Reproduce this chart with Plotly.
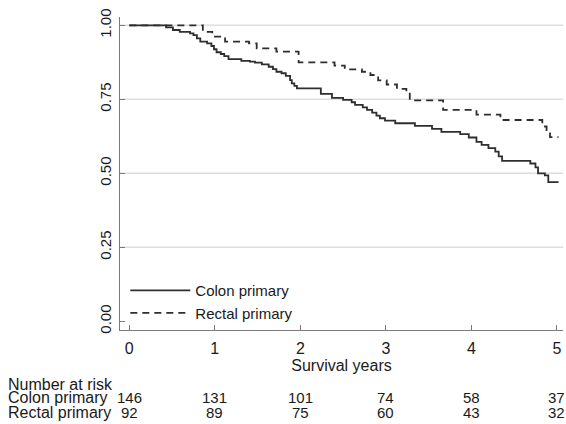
import plotly.graph_objects as go

# ---- data ----
colon_t = [0, 0.43, 0.51, 0.59, 0.71, 0.75, 0.79, 0.83, 0.91, 0.96, 0.99, 1.02, 1.07, 1.11, 1.16,
           1.31, 1.41, 1.47, 1.55, 1.63, 1.68, 1.72, 1.78, 1.83, 1.88, 1.90, 1.93, 1.96, 2.24, 2.37,
           2.50, 2.60, 2.64, 2.73, 2.78, 2.84, 2.89, 2.93, 2.99, 3.11, 3.34, 3.54, 3.65, 3.87, 3.97,
           4.06, 4.12, 4.20, 4.28, 4.32, 4.36, 4.69, 4.75, 4.78, 4.86, 4.90, 5.02]
colon_s = [1.0, 0.993, 0.984, 0.978, 0.973, 0.967, 0.956, 0.945, 0.939, 0.930, 0.919, 0.909, 0.903, 0.896, 0.886,
           0.880, 0.877, 0.874, 0.868, 0.860, 0.852, 0.843, 0.838, 0.829, 0.815, 0.804, 0.795, 0.787, 0.768, 0.755,
           0.748, 0.740, 0.731, 0.723, 0.714, 0.705, 0.695, 0.686, 0.678, 0.669, 0.660, 0.650, 0.640, 0.632, 0.621,
           0.606, 0.596, 0.585, 0.573, 0.557, 0.542, 0.533, 0.520, 0.500, 0.493, 0.470, 0.470]

rectal_t = [0, 0.86, 0.97, 1.12, 1.40, 1.49, 1.72, 1.98, 2.40, 2.52, 2.72, 2.82, 2.91, 3.01, 3.13,
            3.24, 3.28, 3.67, 4.06, 4.34, 4.83, 4.88, 4.92, 5.02]
rectal_s = [1.0, 0.978, 0.962, 0.945, 0.939, 0.922, 0.911, 0.875, 0.864, 0.851, 0.843, 0.832, 0.814, 0.800, 0.785,
            0.776, 0.746, 0.714, 0.698, 0.680, 0.658, 0.635, 0.622, 0.622]

series_names = ["Colon primary", "Rectal primary"]
risk_times = [0, 1, 2, 3, 4, 5]
colon_risk = [146, 131, 101, 74, 58, 37]
rectal_risk = [92, 89, 75, 60, 43, 32]

x_ticks = [0, 1, 2, 3, 4, 5]
y_ticks = [0.0, 0.25, 0.5, 0.75, 1.0]
y_ticktext = ["0.00", "0.25", "0.50", "0.75", "1.00"]
grid_y = [0.25, 0.5, 0.75, 1.0]

FONT = "Liberation Sans, Arial, Helvetica, sans-serif"
TXT = "#1a1a1a"
LINE = "#2e2e2e"
AX = "#7a7a7a"

fig = go.Figure()
fig.add_trace(go.Scatter(x=colon_t, y=colon_s, mode="lines", line_shape="hv",
                         line=dict(color=LINE, width=1.8), name=series_names[0]))
fig.add_trace(go.Scatter(x=rectal_t, y=rectal_s, mode="lines", line_shape="hv",
                         line=dict(color=LINE, width=1.8, dash="7px,5px"), name=series_names[1]))

for g in grid_y:
    fig.add_shape(type="line", xref="paper", x0=0, x1=1, yref="y", y0=g, y1=g,
                  line=dict(color="#dedede", width=1.5), layer="below")

# number at risk table
rows = [("Number at risk", None, -0.174), (series_names[0], colon_risk, -0.217), (series_names[1], rectal_risk, -0.262)]
for label, vals, yy in rows:
    fig.add_annotation(text=label, xref="paper", x=-0.258, xanchor="left", yref="paper", y=yy,
                       yanchor="middle", showarrow=False, font=dict(size=16, color=TXT, family=FONT))
    if vals is not None:
        for t, v in zip(risk_times, vals):
            fig.add_annotation(text=str(v), xref="x", x=t, xanchor="center", yref="paper", y=yy,
                               yanchor="middle", showarrow=False, font=dict(size=15, color=TXT, family=FONT))

fig.update_layout(
    template="none",
    width=566, height=424,
    margin=dict(l=120, r=3, t=17, b=94, autoexpand=False),
    plot_bgcolor="white", paper_bgcolor="white",
    font=dict(family=FONT, size=16, color=TXT),
    showlegend=True,
    legend=dict(x=0.012, y=0.0905, xanchor="left", yanchor="middle", bgcolor="rgba(0,0,0,0)",
                font=dict(size=15, color=TXT, family=FONT), itemwidth=60, tracegroupgap=0),
    xaxis=dict(range=[-0.109, 5.072], tickvals=x_ticks, ticks="inside", ticklen=5, tickcolor=AX,
               tickwidth=1.2, showline=True, linecolor=AX, linewidth=1.3, showgrid=False, zeroline=False,
               ticklabelstandoff=4,
               title=dict(text="Survival years", standoff=0, font=dict(size=16, color=TXT, family=FONT)),
               tickfont=dict(size=16, color=TXT, family=FONT)),
    yaxis=dict(range=[-0.0294, 1.028], tickvals=y_ticks, ticktext=y_ticktext, tickangle=-90,
               ticks="inside", ticklen=5, tickcolor=AX, tickwidth=1.2, showline=True, linecolor=AX,
               linewidth=1.3, showgrid=False, zeroline=False, ticklabelstandoff=2,
               tickfont=dict(size=15, color=TXT, family=FONT)),
)

fig.write_html("out.html", config={"displayModeBar": False},
               post_script="document.body.style.margin='0';")
